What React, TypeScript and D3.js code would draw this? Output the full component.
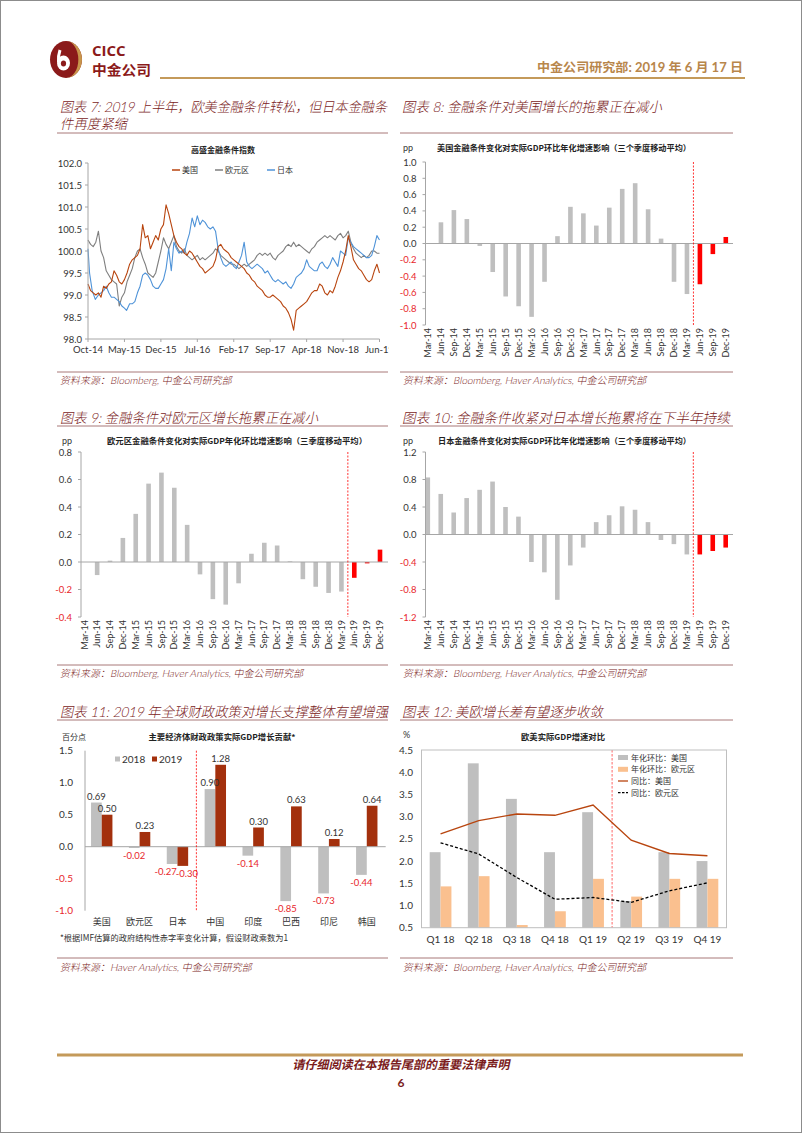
import React from "react";
import * as d3 from "d3";

// ---------------- Chart 7: Goldman Sachs financial conditions index ----------------
const FCI_TICK_LABELS = ["Oct-14", "May-15", "Dec-15", "Jul-16", "Feb-17", "Sep-17", "Apr-18", "Nov-18", "Jun-19"];
const FCI_Y_TICKS = [98.0, 98.5, 99.0, 99.5, 100.0, 100.5, 101.0, 101.5, 102.0];
// [months since Oct-14, index level]
const FCI_US: [number, number][] = [
  [0, 99.25], [0.5, 99.1], [1, 99.05], [1.5, 99.0], [2, 99.05], [2.5, 98.95], [3, 99.2], [3.5, 99.15], [4, 99.25], [4.5, 99.3],
  [5, 99.55], [5.5, 99.45], [6, 99.3], [6.5, 99.25], [7, 99.35], [7.5, 99.5], [8, 99.7], [8.5, 99.8], [9, 99.85], [9.5, 99.9],
  [10, 100.05], [10.5, 100.6], [11, 100.3], [11.5, 100.35], [12, 100.05], [12.5, 100.2], [13, 100.35], [13.5, 100.25], [14, 100.5], [14.5, 100.6],
  [15, 101.05], [15.5, 100.85], [16, 100.6], [16.5, 100.35], [17, 100.2], [17.5, 100.1], [18, 100.05], [18.5, 99.95], [19, 99.9], [19.5, 100.0],
  [20, 99.95], [20.5, 99.85], [21, 99.75], [21.5, 99.65], [22, 99.6], [22.5, 99.5], [23, 99.55], [23.5, 99.6], [24, 99.65], [24.5, 99.8],
  [25, 100.1], [25.5, 100.15], [26, 100.05], [26.5, 100.0], [27, 99.95], [27.5, 99.85], [28, 99.8], [28.5, 99.75], [29, 99.7], [29.5, 99.65],
  [30, 99.6], [30.5, 99.5], [31, 99.45], [31.5, 99.35], [32, 99.3], [32.5, 99.2], [33, 99.15], [33.5, 99.1], [34, 99.0], [34.5, 98.95],
  [35, 98.95], [35.5, 99.0], [36, 98.95], [36.5, 98.9], [37, 98.85], [37.5, 98.75], [38, 98.7], [38.5, 98.6], [39, 98.45], [39.5, 98.2],
  [40, 98.65], [40.5, 98.7], [41, 98.75], [41.5, 98.8], [42, 98.85], [42.5, 98.95], [43, 99.05], [43.5, 99.1], [44, 99.1], [44.5, 99.25],
  [45, 99.2], [45.5, 99.05], [46, 99.0], [46.5, 99.1], [47, 99.05], [47.5, 99.2], [48, 99.4], [48.5, 99.55], [49, 99.75], [49.5, 100.0],
  [50, 100.35], [50.5, 100.1], [51, 99.8], [51.5, 99.7], [52, 99.6], [52.5, 99.55], [53, 99.45], [53.5, 99.35], [54, 99.3], [54.5, 99.35],
  [55, 99.55], [55.5, 99.7], [56, 99.5],
];
const FCI_EA: [number, number][] = [
  [0, 100.25], [0.5, 100.15], [1, 100.1], [1.5, 100.2], [2, 100.45], [2.5, 100.0], [3, 99.85], [3.5, 99.55], [4, 99.45], [4.5, 99.35],
  [5, 99.3], [5.5, 99.25], [6, 98.75], [6.5, 98.95], [7, 99.05], [7.5, 99.3], [8, 99.45], [8.5, 99.6], [9, 99.85], [9.5, 100.0],
  [10, 100.05], [10.5, 99.85], [11, 99.7], [11.5, 99.5], [12, 99.45], [12.5, 99.4], [13, 99.5], [13.5, 99.75], [14, 100.0], [14.5, 100.3],
  [15, 100.15], [15.5, 100.05], [16, 100.2], [16.5, 100.35], [17, 100.1], [17.5, 100.0], [18, 99.95], [18.5, 100.05], [19, 99.9], [19.5, 99.85],
  [20, 99.8], [20.5, 99.85], [21, 99.9], [21.5, 99.8], [22, 99.85], [22.5, 99.8], [23, 99.85], [23.5, 99.9], [24, 99.95], [24.5, 100.05],
  [25, 100.0], [25.5, 99.9], [26, 99.85], [26.5, 99.8], [27, 99.75], [27.5, 99.7], [28, 99.7], [28.5, 99.65], [29, 99.6], [29.5, 99.65],
  [30, 99.7], [30.5, 99.65], [31, 99.7], [31.5, 99.75], [32, 99.8], [32.5, 99.9], [33, 99.95], [33.5, 99.9], [34, 99.95], [34.5, 99.9],
  [35, 99.95], [35.5, 99.85], [36, 99.8], [36.5, 99.9], [37, 99.95], [37.5, 100.0], [38, 100.1], [38.5, 100.15], [39, 100.1], [39.5, 100.2],
  [40, 100.1], [40.5, 100.15], [41, 100.1], [41.5, 100.05], [42, 100.0], [42.5, 99.95], [43, 100.05], [43.5, 100.1], [44, 100.2], [44.5, 100.25],
  [45, 100.3], [45.5, 100.35], [46, 100.3], [46.5, 100.35], [47, 100.3], [47.5, 100.25], [48, 100.35], [48.5, 100.4], [49, 100.3], [49.5, 100.35],
  [50, 100.45], [50.5, 100.2], [51, 100.05], [51.5, 99.95], [52, 99.9], [52.5, 99.85], [53, 99.9], [53.5, 99.85], [54, 99.9], [54.5, 100.0],
  [55, 100.0], [55.5, 99.95], [56, 99.95],
];
const FCI_JP: [number, number][] = [
  [0, 100.05], [0.3, 99.5], [0.8, 99.1], [1.4, 98.9], [2, 99.0], [2.5, 99.05], [3, 99.1], [3.5, 99.2], [4, 99.05], [4.5, 98.95],
  [5, 98.95], [5.5, 98.9], [6, 98.85], [6.5, 98.75], [7, 98.7], [7.4, 98.65], [8, 98.8], [8.5, 98.8], [9, 98.85], [9.5, 99.05],
  [10, 99.2], [10.5, 99.45], [11, 99.5], [11.5, 99.45], [12, 99.35], [12.5, 99.2], [13, 99.15], [13.5, 99.15], [14, 99.25], [14.5, 99.35],
  [15, 99.6], [15.5, 100.05], [16, 99.55], [16.5, 100.2], [17, 100.05], [17.5, 99.95], [18, 100.0], [18.5, 99.95], [19, 100.2], [19.5, 100.4],
  [20, 100.75], [20.5, 100.55], [21, 100.8], [21.5, 100.6], [22, 100.7], [22.5, 100.65], [23, 100.55], [23.5, 100.5], [24, 100.55], [24.5, 100.45],
  [25, 100.05], [25.5, 99.85], [26, 99.7], [26.5, 99.65], [27, 99.7], [27.5, 99.75], [28, 99.65], [28.5, 99.6], [29, 99.75], [29.5, 99.9],
  [30, 100.2], [30.5, 99.75], [31, 99.65], [31.5, 99.6], [32, 99.65], [32.5, 99.7], [33, 99.65], [33.5, 99.6], [34, 99.5], [34.5, 99.55],
  [35, 99.45], [35.5, 99.35], [36, 99.3], [36.5, 99.35], [37, 99.3], [37.5, 99.25], [38, 99.3], [38.5, 99.2], [39, 99.15], [39.5, 99.25],
  [40, 99.4], [40.5, 99.45], [41, 99.5], [41.5, 99.6], [42, 99.8], [42.5, 99.65], [43, 99.6], [43.5, 99.55], [44, 99.55], [44.5, 99.7],
  [45, 99.75], [45.5, 99.65], [46, 99.6], [46.5, 99.7], [47, 99.85], [47.5, 99.75], [48, 99.65], [48.5, 100.0], [49, 99.95], [49.5, 99.9],
  [50, 100.3], [50.5, 100.2], [51, 100.1], [51.5, 100.05], [52, 100.0], [52.5, 99.95], [53, 99.9], [53.5, 99.85], [54, 99.85], [54.5, 99.9],
  [55, 100.1], [55.5, 100.35], [56, 100.25],
];

// ---------------- Charts 8-10: FCI impact on GDP growth (pp) ----------------
const QUARTERS = [
  "Mar-14", "Jun-14", "Sep-14", "Dec-14", "Mar-15", "Jun-15", "Sep-15", "Dec-15",
  "Mar-16", "Jun-16", "Sep-16", "Dec-16", "Mar-17", "Jun-17", "Sep-17", "Dec-17",
  "Mar-18", "Jun-18", "Sep-18", "Dec-18", "Mar-19", "Jun-19", "Sep-19", "Dec-19",
];
const FORECAST_FROM = "Jun-19";
const US_IMPACT = [0, 0.26, 0.41, 0.3, -0.03, -0.35, -0.65, -0.77, -0.9, -0.47, 0.09, 0.45, 0.37, 0.22, 0.44, 0.67, 0.74, 0.42, 0.06, -0.47, -0.62, -0.5, -0.13, 0.08];
const EA_IMPACT = [0, -0.095, 0.01, 0.175, 0.35, 0.57, 0.65, 0.54, 0.27, -0.09, -0.27, -0.31, -0.155, 0.06, 0.14, 0.12, 0.005, -0.125, -0.18, -0.225, -0.215, -0.115, -0.01, 0.09];
const JP_IMPACT = [0.83, 0.59, 0.32, 0.53, 0.65, 0.77, 0.4, 0.26, -0.4, -0.55, -0.95, -0.45, -0.19, 0.18, 0.28, 0.41, 0.36, 0.18, -0.08, -0.14, -0.29, -0.29, -0.24, -0.19];
const US_TICKS = [1.0, 0.8, 0.6, 0.4, 0.2, 0.0, -0.2, -0.4, -0.6, -0.8, -1.0];
const EA_TICKS = [0.8, 0.6, 0.4, 0.2, 0.0, -0.2, -0.4];
const JP_TICKS = [1.2, 0.8, 0.4, 0.0, -0.4, -0.8, -1.2];

// ---------------- Chart 11: fiscal impulse ----------------
const ECONOMIES = ["美国", "欧元区", "日本", "中国", "印度", "巴西", "印尼", "韩国"];
const FISCAL_YEARS = ["2018", "2019"];
const FISCAL_2018 = [0.69, -0.02, -0.27, 0.9, -0.14, -0.85, -0.73, -0.44];
const FISCAL_2019 = [0.5, 0.23, -0.3, 1.28, 0.3, 0.63, 0.12, 0.64];
const FISCAL_TICKS = [1.5, 1.0, 0.5, 0.0, -0.5, -1.0];

// ---------------- Chart 12: US vs euro area GDP ----------------
const GDP_QUARTERS = ["Q1 18", "Q2 18", "Q3 18", "Q4 18", "Q1 19", "Q2 19", "Q3 19", "Q4 19"];
const US_QOQ = [2.2, 4.2, 3.4, 2.2, 3.1, 1.1, 2.2, 2.0];
const EA_QOQ = [1.43, 1.66, 0.56, 0.87, 1.6, 1.2, 1.6, 1.6];
const US_YOY = [2.61, 2.91, 3.06, 3.03, 3.26, 2.47, 2.17, 2.12];
const EA_YOY = [2.41, 2.16, 1.63, 1.14, 1.18, 1.07, 1.33, 1.51];
const GDP_TICKS = [4.5, 4.0, 3.5, 3.0, 2.5, 2.0, 1.5, 1.0, 0.5];
const GDP_FORECAST_FROM = "Q2 19";

// ---------------- styles ----------------
const MAROON = "#7b1c1c";
const GOLD = "#c49a5a";
const RED_TXT = "#e8262b";
const BAR_GRAY = "#bfbfbf";
const AXIS = "#a6a6a6";
const FORECAST_RED = "#ff0000";
const US_RUST = "#b8450f";
const EA_GRAY = "#7f7f7f";
const JP_BLUE = "#4f93d8";
const DARK_RED_BAR = "#a3300d";
const LIGHT_ORANGE = "#fac08f";
const NUM_FONT = "Lato, 'Noto Sans CJK SC', sans-serif";
const CJK_FONT = "'Noto Sans CJK SC', sans-serif";

const fmt1 = (v: number) => (Math.abs(v) < 1e-9 ? 0 : v).toFixed(1);
const fmt2 = (v: number) => v.toFixed(2);

function Title({ x, y, text, width }: { x: number; y: number; text: string; width?: number }) {
  return (
    <g transform={`translate(${x},${y}) skewX(-12)`}>
      <text x={0} y={0} fontFamily={NUM_FONT} fontWeight={300} fontSize={14} fill={MAROON}
        textLength={width} lengthAdjust={width ? "spacingAndGlyphs" : undefined}>
        {text}
      </text>
    </g>
  );
}

function Rule({ x1, x2, y }: { x1: number; x2: number; y: number }) {
  return <line x1={x1} x2={x2} y1={y} y2={y} stroke="#a87878" strokeWidth={1} />;
}

function Source({ x, y, text }: { x: number; y: number; text: string }) {
  return (
    <g transform={`translate(${x},${y}) skewX(-12)`}>
      <text x={0} y={0} fontFamily={NUM_FONT} fontWeight={300} fontSize={10} fill={MAROON}>{text}</text>
    </g>
  );
}

function Header() {
  return (
    <g>
      <ellipse cx={66} cy={59.5} rx={16} ry={18.5} fill="#8b1a1a" />
      <path d="M66,41 A16,18.5 0 0 1 66,78 A10,15 0 0 0 66,41 Z" fill="#c8964c" />
      <ellipse cx={63.5} cy={63} rx={6.5} ry={7.5} fill="#fff" />
      <path d="M60,50 Q58,56 58.5,62" stroke="#fff" strokeWidth={3} fill="none" />
      <ellipse cx={63.5} cy={63.5} rx={2.6} ry={3} fill="#8b1a1a" />
      <text x={92} y={56} fontFamily="'Open Sans', sans-serif" fontWeight={700} fontSize={15} fill="#8b1a1a">CICC</text>
      <text x={92} y={75} fontFamily={CJK_FONT} fontWeight={700} fontSize={14} fill="#8b1a1a"
        textLength={59} lengthAdjust="spacingAndGlyphs">中金公司</text>
      <text x={743} y={71.5} textAnchor="end" fontFamily={NUM_FONT} fontWeight={700} fontSize={12.5} fill="#b8864b"
        textLength={206} lengthAdjust="spacingAndGlyphs">中金公司研究部: 2019 年 6 月 17 日</text>
      <line x1={160} x2={745} y1={78} y2={78} stroke={GOLD} strokeWidth={2} />
    </g>
  );
}

function FciChart() {
  const left = 88, right = 379.5, top = 163, bottom = 339;
  const x = d3.scaleLinear().domain([0, 56]).range([left, right]);
  const y = d3.scaleLinear().domain([98, 102]).range([bottom, top]);
  const line = d3.line<[number, number]>().x((d) => x(d[0])).y((d) => y(d[1]));
  const series = [
    { data: FCI_EA, color: EA_GRAY },
    { data: FCI_JP, color: JP_BLUE },
    { data: FCI_US, color: US_RUST },
  ];
  const legend = [
    { label: "美国", color: US_RUST, x: 172 },
    { label: "欧元区", color: EA_GRAY, x: 215 },
    { label: "日本", color: JP_BLUE, x: 267 },
  ];
  return (
    <g clipPath="url(#clip7)">
      <text x={223} y={153} textAnchor="middle" fontFamily={CJK_FONT} fontWeight={700} fontSize={8} fill="#222">高盛金融条件指数</text>
      {legend.map((l) => (
        <g key={l.label}>
          <line x1={l.x} x2={l.x + 8} y1={170} y2={170} stroke={l.color} strokeWidth={1.5} />
          <text x={l.x + 10} y={173} fontFamily={CJK_FONT} fontSize={8} fill="#333">{l.label}</text>
        </g>
      ))}
      {FCI_Y_TICKS.map((t) => (
        <g key={t}>
          <line x1={left - 3} x2={left} y1={y(t)} y2={y(t)} stroke={AXIS} />
          <text x={left - 6} y={y(t) + 3.5} textAnchor="end" fontFamily={NUM_FONT} fontSize={9.5} fill="#333">{t.toFixed(1)}</text>
        </g>
      ))}
      {FCI_TICK_LABELS.map((lab, i) => (
        <g key={lab}>
          <line x1={x(i * 7)} x2={x(i * 7)} y1={bottom} y2={bottom + 3} stroke={AXIS} />
          <text x={x(i * 7)} y={bottom + 14} textAnchor="middle" fontFamily={NUM_FONT} fontSize={9.5} fill="#333">{lab}</text>
        </g>
      ))}
      {series.map((s, i) => (
        <path key={i} d={line(s.data) || ""} fill="none" stroke={s.color} strokeWidth={1.1} strokeLinejoin="round" />
      ))}
      <line x1={left} x2={left} y1={top} y2={bottom} stroke={AXIS} />
      <line x1={left} x2={right} y1={bottom} y2={bottom} stroke={AXIS} />
    </g>
  );
}

type BarSpec = {
  axisX: number; top: number; bottom: number; domain: [number, number]; ticks: number[];
  firstX: number; lastX: number; right: number; values: number[]; subtitle: string; subX: number; subW: number; subY: number;
  ppX: number;
};

function QuarterBarChart({ s }: { s: BarSpec }) {
  const y = d3.scaleLinear().domain(s.domain).range([s.bottom, s.top]);
  const x = d3.scalePoint<string>().domain(QUARTERS).range([s.firstX, s.lastX]);
  const step = x.step();
  const bw = 4.6;
  const fIdx = QUARTERS.indexOf(FORECAST_FROM);
  const redX = (x(FORECAST_FROM) as number) - step / 2;
  return (
    <g>
      <text x={s.ppX} y={s.subY} fontFamily={NUM_FONT} fontSize={9} fill="#333">pp</text>
      <text x={s.subX} y={s.subY} fontFamily={CJK_FONT} fontWeight={700} fontSize={8} fill="#222"
        textLength={s.subW} lengthAdjust="spacingAndGlyphs">{s.subtitle}</text>
      {s.ticks.map((t) => (
        <g key={t}>
          <line x1={s.axisX - 3} x2={s.axisX} y1={y(t)} y2={y(t)} stroke={AXIS} />
          <text x={s.axisX - 9} y={y(t) + 3.5} textAnchor="end" fontFamily={NUM_FONT} fontSize={9.5}
            fill={t < 0 ? RED_TXT : "#333"}>{fmt1(t)}</text>
        </g>
      ))}
      {s.values.map((v, i) => {
        const cx = x(QUARTERS[i]) as number;
        const y0 = y(0), y1 = y(v);
        return (
          <rect key={i} x={cx - bw / 2} y={Math.min(y0, y1)} width={bw} height={Math.abs(y1 - y0)}
            fill={i >= fIdx ? FORECAST_RED : BAR_GRAY} />
        );
      })}
      <line x1={s.axisX} x2={s.right} y1={y(0)} y2={y(0)} stroke={AXIS} />
      <line x1={s.axisX} x2={s.axisX} y1={s.top} y2={s.bottom} stroke={AXIS} />
      <line x1={redX} x2={redX} y1={s.top} y2={s.bottom} stroke={FORECAST_RED} strokeWidth={0.8} strokeDasharray="2,1.5" />
      {QUARTERS.map((q) => (
        <text key={q} transform={`translate(${(x(q) as number) + 3.2},${s.bottom + 3}) rotate(-90)`} textAnchor="end"
          fontFamily={NUM_FONT} fontSize={9} fill="#333">{q}</text>
      ))}
    </g>
  );
}

function FiscalChart() {
  const axisX = 85, left = 82.8, right = 385.7, top = 750.7, bottom = 910.7;
  const y = d3.scaleLinear().domain([-1, 1.5]).range([bottom, top]);
  const x0 = d3.scaleBand<string>().domain(ECONOMIES).range([left, right]).paddingInner(0.435).paddingOuter(0.2175);
  const x1 = d3.scaleBand<string>().domain(FISCAL_YEARS).range([0, x0.bandwidth()]);
  const sets = [
    { year: "2018", vals: FISCAL_2018, color: BAR_GRAY },
    { year: "2019", vals: FISCAL_2019, color: DARK_RED_BAR },
  ];
  const redX = (x0("中国") as number) - (x0.step() * 0.435) / 2;
  const w = x1.bandwidth();
  const bx = (yr: string, i: number) => (x0(ECONOMIES[i]) as number) + (x1(yr) as number);
  // when both labels of a group sit below the axis, push them apart so they don't collide
  const nudge = (yr: string, i: number) =>
    FISCAL_2018[i] < 0 && FISCAL_2019[i] < 0 ? (yr === "2018" ? -6.5 : 4) : 0;
  return (
    <g>
      <text x={62} y={740} fontFamily={CJK_FONT} fontSize={8} fill="#333">百分点</text>
      <text x={222} y={740} textAnchor="middle" fontFamily={CJK_FONT} fontWeight={700} fontSize={8} fill="#222"
        textLength={147} lengthAdjust="spacingAndGlyphs">主要经济体财政政策实际GDP增长贡献*</text>
      {FISCAL_TICKS.map((t) => (
        <text key={t} x={73} y={y(t) + 3.5} textAnchor="end" fontFamily={NUM_FONT} fontSize={10}
          fill={t < 0 ? RED_TXT : "#333"}>{fmt1(t)}</text>
      ))}
      {sets.map((st) =>
        st.vals.map((v, i) => {
          const ya = y(0), yb = y(v);
          return <rect key={st.year + i} x={bx(st.year, i)} y={Math.min(ya, yb)} width={w} height={Math.abs(yb - ya)} fill={st.color} />;
        })
      )}
      {sets.map((st) =>
        st.vals.map((v, i) => (
          <text key={"l" + st.year + i} x={bx(st.year, i) + w / 2 + nudge(st.year, i)} y={v >= 0 ? y(v) - 3 : y(v) + 11}
            textAnchor="middle" fontFamily={NUM_FONT} fontSize={9.5} fill={v >= 0 ? "#333" : RED_TXT}>{fmt2(v)}</text>
        ))
      )}
      <line x1={axisX} x2={right} y1={y(0)} y2={y(0)} stroke={AXIS} />
      <line x1={axisX} x2={axisX} y1={top} y2={bottom} stroke={AXIS} />
      <line x1={redX} x2={redX} y1={top} y2={bottom} stroke={FORECAST_RED} strokeWidth={0.8} strokeDasharray="2,1.5" />
      {ECONOMIES.map((e) => (
        <text key={e} x={(x0(e) as number) + x0.bandwidth() / 2} y={925} textAnchor="middle" fontFamily={CJK_FONT}
          fontSize={9} fill="#333">{e}</text>
      ))}
      <rect x={115} y={756.5} width={5} height={5} fill={BAR_GRAY} />
      <text x={122} y={763} fontFamily={NUM_FONT} fontSize={10} fill="#333">2018</text>
      <rect x={152} y={756.5} width={5} height={5} fill={DARK_RED_BAR} />
      <text x={159} y={763} fontFamily={NUM_FONT} fontSize={10} fill="#333">2019</text>
      <text x={60} y={941} fontFamily={CJK_FONT} fontSize={8.5} fill="#333" textLength={228}
        lengthAdjust="spacingAndGlyphs">*根据IMF估算的政府结构性赤字率变化计算，假设财政乘数为1</text>
    </g>
  );
}

function GdpChart() {
  const left = 421.5, right = 726.5, top = 750, bottom = 927.7;
  const y = d3.scaleLinear().domain([0.5, 4.5]).range([bottom, top]);
  const x0 = d3.scaleBand<string>().domain(GDP_QUARTERS).range([left, right]).paddingInner(0.43).paddingOuter(0.215);
  const x1 = d3.scaleBand<string>().domain(["us", "ea"]).range([0, x0.bandwidth()]);
  const cx = (q: string) => (x0(q) as number) + x0.bandwidth() / 2;
  const line = d3.line<number>().x((_, i) => cx(GDP_QUARTERS[i])).y((d) => y(d));
  const redX = (x0(GDP_FORECAST_FROM) as number) - (x0.step() * 0.43) / 2;
  const legend = [
    { label: "年化环比：美国", kind: "bar", color: BAR_GRAY, y: 757.5 },
    { label: "年化环比：欧元区", kind: "bar", color: LIGHT_ORANGE, y: 769.3 },
    { label: "同比：美国", kind: "line", color: US_RUST, y: 781 },
    { label: "同比：欧元区", kind: "dash", color: "#000", y: 792.7 },
  ];
  return (
    <g>
      <text x={403} y={738} fontFamily={NUM_FONT} fontSize={9} fill="#333">%</text>
      <text x={563} y={740} textAnchor="middle" fontFamily={CJK_FONT} fontWeight={700} fontSize={8} fill="#222"
        textLength={84} lengthAdjust="spacingAndGlyphs">欧美实际GDP增速对比</text>
      {GDP_TICKS.map((t) => (
        <text key={t} x={413} y={y(t) + 3.5} textAnchor="end" fontFamily={NUM_FONT} fontSize={10} fill="#333">{t.toFixed(1)}</text>
      ))}
      {GDP_QUARTERS.map((q, i) => (
        <g key={q}>
          <rect x={(x0(q) as number) + (x1("us") as number)} y={y(US_QOQ[i])} width={x1.bandwidth()}
            height={bottom - y(US_QOQ[i])} fill={BAR_GRAY} />
          <rect x={(x0(q) as number) + (x1("ea") as number)} y={y(EA_QOQ[i])} width={x1.bandwidth()}
            height={bottom - y(EA_QOQ[i])} fill={LIGHT_ORANGE} />
          <text x={cx(q)} y={943} textAnchor="middle" fontFamily={NUM_FONT} fontSize={10} fill="#333">{q}</text>
        </g>
      ))}
      <line x1={redX} x2={redX} y1={top} y2={bottom} stroke="#ff8a8a" strokeWidth={1.3} strokeDasharray="2.5,1.5" />
      <path d={line(US_YOY) || ""} fill="none" stroke={US_RUST} strokeWidth={1.4} />
      <path d={line(EA_YOY) || ""} fill="none" stroke="#000" strokeWidth={1.3} strokeDasharray="3,2" />
      <rect x={left} y={top} width={right - left} height={bottom - top} fill="none" stroke={BAR_GRAY} />
      {legend.map((l) => (
        <g key={l.label}>
          {l.kind === "bar" ? (
            <rect x={618} y={l.y - 2.5} width={10} height={5} fill={l.color} />
          ) : (
            <line x1={618} x2={628} y1={l.y} y2={l.y} stroke={l.color} strokeWidth={1.3}
              strokeDasharray={l.kind === "dash" ? "2.5,1.5" : undefined} />
          )}
          <text x={631} y={l.y + 3} fontFamily={CJK_FONT} fontSize={8} fill="#333">{l.label}</text>
        </g>
      ))}
    </g>
  );
}

export default function App() {
  const usSpec: BarSpec = {
    axisX: 425.5, top: 162, bottom: 325, domain: [-1, 1], ticks: US_TICKS, firstX: 428, lastX: 725.8, right: 733,
    values: US_IMPACT, subtitle: "美国金融条件变化对实际GDP环比年化增速影响（三个季度移动平均）", subX: 437, subW: 254, subY: 151, ppX: 403,
  };
  const eaSpec: BarSpec = {
    axisX: 81, top: 452, bottom: 617, domain: [-0.4, 0.8], ticks: EA_TICKS, firstX: 84.3, lastX: 380, right: 388,
    values: EA_IMPACT, subtitle: "欧元区金融条件变化对实际GDP年化环比增速影响（三季度移动平均）", subX: 107, subW: 260, subY: 444, ppX: 62,
  };
  const jpSpec: BarSpec = {
    axisX: 425.5, top: 452, bottom: 617, domain: [-1.2, 1.2], ticks: JP_TICKS, firstX: 427.8, lastX: 725.7, right: 733,
    values: JP_IMPACT, subtitle: "日本金融条件变化对实际GDP环比年化增速影响（三个季度移动平均）", subX: 438, subW: 253, subY: 444, ppX: 403,
  };
  return (
    <svg width={802} height={1133} style={{ position: "absolute", left: 0, top: 0, background: "#fff" }}>
      <defs>
        <clipPath id="clip7"><rect x={0} y={130} width={389} height={250} /></clipPath>
      </defs>
      <rect x={0.5} y={0.5} width={801} height={1132} fill="#fff" stroke="#8c8c8c" />
      <Header />

      {/* Row 1 */}
      <Title x={60} y={112} text="图表 7: 2019 上半年，欧美金融条件转松，但日本金融条" width={327} />
      <Title x={60} y={129} text="件再度紧缩" width={67} />
      <Rule x1={57} x2={388} y={133} />
      <FciChart />
      <Rule x1={57} x2={388} y={372} />
      <Source x={60} y={384} text="资料来源：Bloomberg, 中金公司研究部" />

      <Title x={402} y={112} text="图表 8: 金融条件对美国增长的拖累正在减小" width={260} />
      <Rule x1={400} x2={733} y={133} />
      <QuarterBarChart s={usSpec} />
      <Rule x1={400} x2={733} y={372} />
      <Source x={403} y={384} text="资料来源：Bloomberg, Haver Analytics, 中金公司研究部" />

      {/* Row 2 */}
      <Title x={60} y={423} text="图表 9: 金融条件对欧元区增长拖累正在减小" width={258} />
      <Rule x1={57} x2={388} y={426} />
      <QuarterBarChart s={eaSpec} />
      <Rule x1={57} x2={388} y={665} />
      <Source x={60} y={677} text="资料来源：Bloomberg, Haver Analytics, 中金公司研究部" />

      <Title x={402} y={423} text="图表 10:    金融条件收紧对日本增长拖累将在下半年持续" width={328} />
      <Rule x1={400} x2={733} y={426} />
      <QuarterBarChart s={jpSpec} />
      <Rule x1={400} x2={733} y={665} />
      <Source x={403} y={677} text="资料来源：Bloomberg, Haver Analytics, 中金公司研究部" />

      {/* Row 3 */}
      <Title x={60} y={717} text="图表 11: 2019 年全球财政政策对增长支撑整体有望增强" width={328} />
      <Rule x1={57} x2={388} y={720} />
      <FiscalChart />
      <Rule x1={57} x2={388} y={958} />
      <Source x={60} y={971} text="资料来源：Haver Analytics, 中金公司研究部" />

      <Title x={402} y={717} text="图表 12: 美欧增长差有望逐步收敛" width={201} />
      <Rule x1={400} x2={733} y={720} />
      <GdpChart />
      <Rule x1={400} x2={733} y={958} />
      <Source x={403} y={971} text="资料来源：Bloomberg, Haver Analytics, 中金公司研究部" />

      {/* Footer */}
      <line x1={57} x2={743} y1={1055} y2={1055} stroke={GOLD} strokeWidth={3} />
      <g transform="translate(401,1069) skewX(-12)">
        <text x={0} y={0} textAnchor="middle" fontFamily={CJK_FONT} fontWeight={700} fontSize={12}
          fill={MAROON} textLength={217} lengthAdjust="spacingAndGlyphs">请仔细阅读在本报告尾部的重要法律声明</text>
      </g>
      <text x={401} y={1087} textAnchor="middle" fontFamily={NUM_FONT} fontWeight={700} fontSize={12} fill={MAROON}>6</text>
    </svg>
  );
}
